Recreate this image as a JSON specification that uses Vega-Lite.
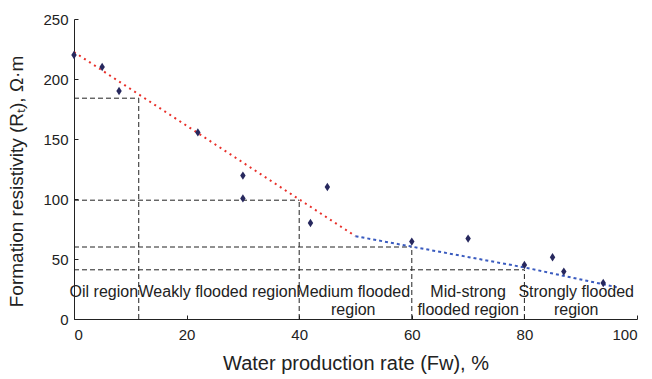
{
  "$schema": "https://vega.github.io/schema/vega-lite/v6.json",
  "width": 563,
  "height": 300,
  "autosize": "none",
  "padding": {"left": 74, "top": 19, "right": 15, "bottom": 60},
  "config": {
    "view": {"stroke": null},
    "font": "Liberation Sans",
    "axis": {
      "grid": false,
      "domainColor": "#222",
      "tickColor": "#222",
      "labelColor": "#222",
      "titleColor": "#222",
      "labelFont": "Liberation Sans",
      "titleFont": "Liberation Sans",
      "labelFontSize": 15,
      "titleFontSize": 19,
      "titleFontWeight": "normal",
      "tickSize": -4,
      "domainWidth": 1,
      "tickWidth": 1
    }
  },
  "datasets": {
    "refs": [
      {"x": 0, "x2": 11.5, "y": 184, "y2": 184},
      {"x": 11.5, "x2": 11.5, "y": 0, "y2": 184},
      {"x": 0, "x2": 40, "y": 99, "y2": 99},
      {"x": 40, "x2": 40, "y": 0, "y2": 99},
      {"x": 0, "x2": 60, "y": 60, "y2": 60},
      {"x": 60, "x2": 60, "y": 0, "y2": 60},
      {"x": 0, "x2": 80, "y": 41, "y2": 41},
      {"x": 80, "x2": 80, "y": 0, "y2": 41}
    ],
    "red": [
      {"fw": 0, "rt": 222.5},
      {"fw": 50, "rt": 69}
    ],
    "blue": [
      {"fw": 50, "rt": 69},
      {"fw": 60, "rt": 60.3},
      {"fw": 80, "rt": 43},
      {"fw": 96.4, "rt": 26.5}
    ],
    "pts": [
      {"fw": 0, "rt": 220},
      {"fw": 5, "rt": 210},
      {"fw": 8, "rt": 190},
      {"fw": 22, "rt": 155.5},
      {"fw": 30, "rt": 119.5},
      {"fw": 30, "rt": 100.5},
      {"fw": 42, "rt": 80},
      {"fw": 45, "rt": 110},
      {"fw": 60, "rt": 64.5},
      {"fw": 70, "rt": 67},
      {"fw": 80, "rt": 45},
      {"fw": 85, "rt": 51.5},
      {"fw": 87, "rt": 39.5},
      {"fw": 94, "rt": 30}
    ],
    "labels": [
      {"fw": 5.3, "rt": 29.5, "label": "Oil region"},
      {"fw": 25.5, "rt": 29.5, "label": "Weakly flooded region"},
      {"fw": 49.6, "rt": 29.5, "label": "Medium flooded\nregion"},
      {"fw": 70, "rt": 29.5, "label": "Mid-strong\nflooded region"},
      {"fw": 89.2, "rt": 29.5, "label": "Strongly flooded\nregion"}
    ]
  },
  "layer": [
    {
      "data": {"name": "refs"},
      "mark": {"type": "rule", "color": "#222", "strokeDash": [5, 3], "strokeWidth": 1},
      "encoding": {
        "x": {"field": "x", "type": "quantitative", "scale": {"domain": [0, 100], "nice": false},
          "axis": {"values": [0, 20, 40, 60, 80, 100], "title": "Water production rate (Fw), %", "titleFontSize": 20, "titlePadding": 11, "labelPadding": 12}},
        "x2": {"field": "x2"},
        "y": {"field": "y", "type": "quantitative", "scale": {"domain": [0, 250], "nice": false},
          "axis": {"values": [0, 50, 100, 150, 200, 250], "title": "Formation resistivity (Rₜ), Ω·m", "titlePadding": 16, "labelPadding": 10, "titleY": 162}},
        "y2": {"field": "y2"}
      }
    },
    {
      "data": {"name": "red"},
      "mark": {"type": "line", "color": "#e8302a", "strokeDash": [2, 4], "strokeWidth": 2},
      "encoding": {
        "x": {"field": "fw", "type": "quantitative"},
        "y": {"field": "rt", "type": "quantitative"}
      }
    },
    {
      "data": {"name": "blue"},
      "mark": {"type": "line", "color": "#3a5bbf", "strokeDash": [3, 3], "strokeWidth": 2},
      "encoding": {
        "x": {"field": "fw", "type": "quantitative"},
        "y": {"field": "rt", "type": "quantitative"}
      }
    },
    {
      "data": {"name": "pts"},
      "mark": {"type": "point", "shape": "M0,-1L0.65,0L0,1L-0.65,0Z", "filled": true, "color": "#27285e", "size": 70, "opacity": 1},
      "encoding": {
        "x": {"field": "fw", "type": "quantitative"},
        "y": {"field": "rt", "type": "quantitative"}
      }
    },
    {
      "data": {"name": "labels"},
      "mark": {"type": "text", "fontSize": 16, "color": "#222", "baseline": "top", "align": "center", "lineBreak": "\n", "lineHeight": 18.5},
      "encoding": {
        "x": {"field": "fw", "type": "quantitative"},
        "y": {"field": "rt", "type": "quantitative"},
        "text": {"field": "label"}
      }
    }
  ]
}
